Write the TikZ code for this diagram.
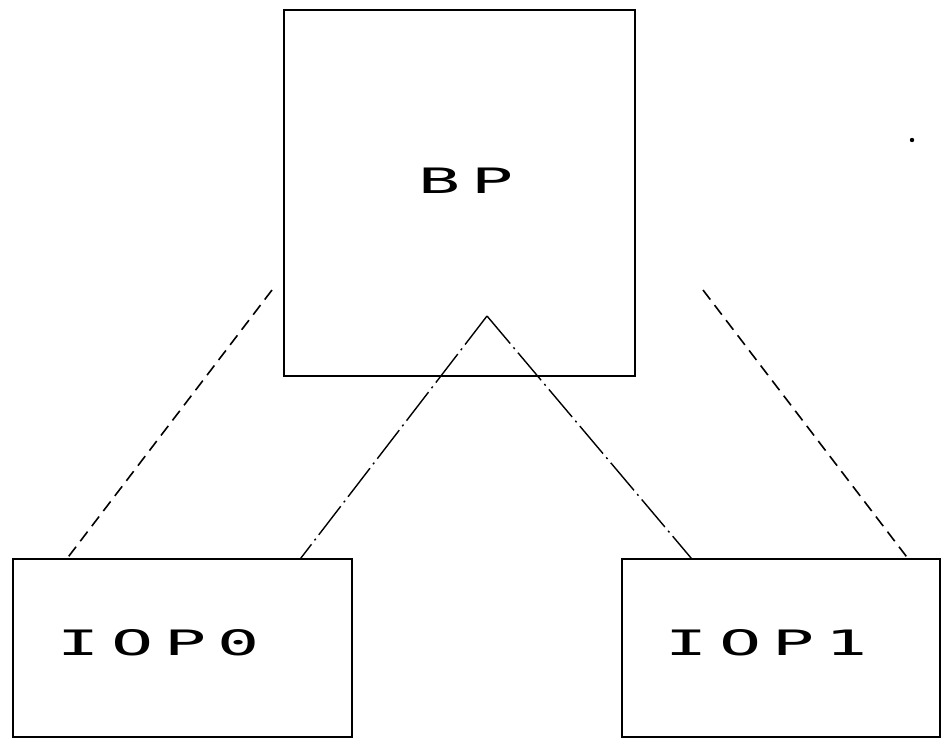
\documentclass[tikz,border=0pt]{standalone}
\usepackage{fontspec}
\newfontfamily\plotfont[FakeStretch=2.0,LetterSpace=32]{DejaVu Sans Mono}
\begin{document}
\begin{tikzpicture}[x=1pt,y=-1pt,
  boxst/.style={draw,line width=1.5pt,inner sep=0pt},
  lbl/.style={font=\plotfont\fontsize{35}{35}\selectfont,inner sep=0pt,anchor=center},
  dashedcon/.style={line width=1.6pt,dash pattern=on 12pt off 7pt},
  dashdotcon/.style={line width=1.4pt,dash pattern=on 36pt off 5pt on 2pt off 5pt}]
\useasboundingbox (0,0) rectangle (949,742);
\node[boxst,minimum width=351pt,minimum height=366pt] (bp) at (459.5,193) {};
\node[boxst,minimum width=339pt,minimum height=178pt] (iop0) at (182.5,648) {};
\node[boxst,minimum width=318pt,minimum height=178pt] (iop1) at (781,648) {};
\node[lbl] (bpl) at (466,181) {BP};
\node[lbl] (iop0l) at (159,643) {IOP0};
\node[lbl] (iop1l) at (767,643) {IOP1};
\coordinate (apex) at (487,316);
\coordinate (dl) at (272,290);
\coordinate (dr) at (703,290);
\draw[dashedcon] (dl) -- ([xshift=55pt]iop0.north west);
\draw[dashedcon] (dr) -- ([xshift=-33pt]iop1.north east);
\draw[dashdotcon] (apex) -- ([xshift=-52pt]iop0.north east);
\draw[dashdotcon] (apex) -- ([xshift=70pt]iop1.north west);
\fill (912,140) circle (2.2pt);
\end{tikzpicture}
\end{document}
